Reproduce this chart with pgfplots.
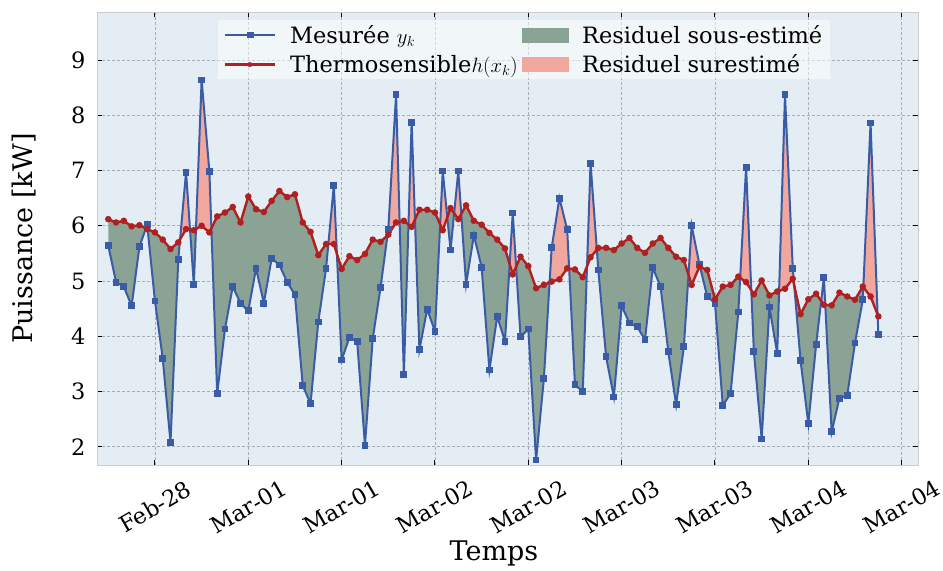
\documentclass[border=0pt]{standalone}
\usepackage{fontspec}
\setmainfont{DejaVu Serif}
\usepackage{pgfplots}
\pgfplotsset{compat=1.18}
\usepackage{pgfplotstable}
\usepgfplotslibrary{fillbetween}

\definecolor{mesC}{RGB}{58,92,166}
\definecolor{thC}{RGB}{176,32,32}
\definecolor{sousC}{RGB}{138,163,148}
\definecolor{surC}{RGB}{241,166,158}
\definecolor{bgC}{RGB}{228,237,243}
\definecolor{gridC}{RGB}{165,173,181}

% t: hours from Feb-28 12:00, y: measured power, h: thermosensitive model
\pgfplotstableread{
t y h
-6 5.64 6.12
-5 4.98 6.06
-4 4.90 6.09
-3 4.55 5.99
-2 5.62 6.01
-1 6.02 5.94
0 4.64 5.88
1 3.60 5.75
2 2.08 5.58
3 5.39 5.70
4 6.97 5.94
5 4.93 5.92
6 8.64 6.00
7 6.98 5.88
8 2.96 6.17
9 4.13 6.24
10 4.90 6.34
11 4.60 6.06
12 4.46 6.53
13 5.23 6.30
14 4.60 6.25
15 5.41 6.45
16 5.29 6.63
17 4.98 6.52
18 4.75 6.57
19 3.11 6.06
20 2.78 5.89
21 4.26 5.47
22 5.23 5.67
23 6.73 5.67
24 3.57 5.22
25 3.98 5.45
26 3.90 5.38
27 2.03 5.49
28 3.96 5.75
29 4.88 5.71
30 5.94 5.84
31 8.37 6.06
32 3.31 6.09
33 7.87 5.98
34 3.76 6.29
35 4.49 6.29
36 4.09 6.24
37 6.99 5.92
38 5.56 6.32
39 6.99 6.12
40 4.94 6.37
41 5.83 6.09
42 5.25 6.02
43 3.39 5.87
44 4.36 5.75
45 3.91 5.59
46 6.23 5.12
47 3.99 5.44
48 4.13 5.27
49 1.76 4.87
50 3.23 4.93
51 5.60 4.99
52 6.50 5.03
53 5.93 5.23
54 3.12 5.21
55 3.00 5.07
56 7.13 5.43
57 5.20 5.60
58 3.63 5.60
59 2.90 5.56
60 4.55 5.68
61 4.24 5.78
62 4.17 5.60
63 3.94 5.51
64 5.24 5.68
65 4.90 5.78
66 3.72 5.60
67 2.76 5.44
68 3.81 5.38
69 6.00 4.93
70 5.30 5.26
71 4.72 5.20
72 4.60 4.67
73 2.75 4.90
74 2.96 4.93
75 4.44 5.08
76 7.06 4.98
77 3.72 4.76
78 2.14 5.01
79 4.53 4.74
80 3.69 4.81
81 8.37 4.86
82 5.23 5.04
83 3.56 4.40
84 2.42 4.67
85 3.85 4.77
86 5.06 4.57
87 2.27 4.56
88 2.88 4.79
89 2.93 4.72
90 3.88 4.66
91 4.66 4.90
92 7.86 4.72
93 4.03 4.36
}\puissance

\begin{document}
\begin{tikzpicture}
\begin{axis}[
  scale only axis, width=821pt, height=453pt,
  xmin=-7.45, xmax=98.1, ymin=1.67, ymax=9.87,
  axis background/.style={fill=bgC},
  xtick={0,12,...,96},
  xticklabels={Feb-28,Mar-01,Mar-01,Mar-02,Mar-02,Mar-03,Mar-03,Mar-04,Mar-04},
  ytick={2,...,9},
  grid=major,
  major grid style={gridC, densely dashed, line width=0.7pt},
  tick align=inside, major tick length=5pt,
  tick style={black, line width=1pt},
  axis line style={draw=gray!40, line width=0.8pt},
  ticklabel style={font=\fontsize{22.5}{26}\selectfont},
  /pgf/number format/assume math mode=true,
  yticklabel style={xshift=-8pt},
  xticklabel style={yshift=-42pt, rotate=30, anchor=center},
  xlabel={Temps}, ylabel={Puissance [kW]},
  label style={font=\fontsize{27}{31}\selectfont},
  xlabel style={at={(axis description cs:0.4835,-0.196)}, anchor=center},
  ylabel style={at={(axis description cs:-0.089,0.5)}, anchor=center},
  legend columns=2,
  legend cell align=left,
  legend style={at={(0.52,0.982)}, anchor=north, draw=none,
    fill=white, fill opacity=0.5, text opacity=1,
    font=\fontsize{22.5}{26}\selectfont, row sep=6pt,
    inner xsep=6pt, inner ysep=3pt,
    /tikz/every odd column/.append style={column sep=12pt},
    /tikz/every even column/.append style={column sep=2pt}},
]
\coordinate (sw) at (rel axis cs:0,0);
\coordinate (ne) at (rel axis cs:1,1);

% outlines used for the residual areas
\addplot[name path=mes, draw=none, forget plot] table[x=t, y=y] {\puissance};
\addplot[name path=th, draw=none, forget plot] table[x=t, y=h] {\puissance};
\addplot[draw=none, forget plot] fill between[of=mes and th, split,
  every even segment/.style={fill=sousC},
  every odd segment/.style={fill=surC}];

\addplot[mesC, line width=2pt, mark=square*, mark size=2.4pt, forget plot]
  table[x=t, y=y] {\puissance};
\addplot[thC, line width=2.4pt, mark=*, mark size=2pt, forget plot]
  table[x=t, y=h] {\puissance};

\addlegendimage{legend image code/.code={
  \draw[mesC, line width=2pt] (0pt,0pt) -- (50pt,0pt);
  \fill[mesC, fill opacity=1] (22pt,-2.5pt) rectangle (28pt,2.5pt);}}
\addlegendentry{Mesurée $y_k$}
\addlegendimage{legend image code/.code={
  \fill[sousC, fill opacity=1] (0pt,-7pt) rectangle (46pt,7pt);}}
\addlegendentry{Residuel sous-estimé}
\addlegendimage{legend image code/.code={
  \draw[thC, line width=2.4pt] (0pt,0pt) -- (50pt,0pt);
  \fill[thC, fill opacity=1] (25pt,0pt) circle (2.2pt);}}
\addlegendentry{Thermosensible$h(x_k)$}
\addlegendimage{legend image code/.code={
  \fill[surC, fill opacity=1] (0pt,-7pt) rectangle (46pt,7pt);}}
\addlegendentry{Residuel surestimé}
\end{axis}
\pgfresetboundingbox
\useasboundingbox ([shift={(-97pt,-106pt)}]sw) rectangle ([shift={(25pt,12pt)}]ne);
\end{tikzpicture}
\end{document}
